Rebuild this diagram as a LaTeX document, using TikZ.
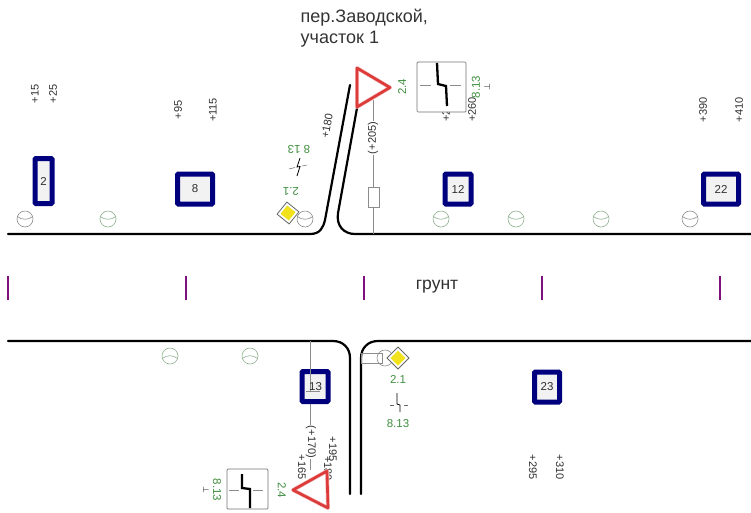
\documentclass[tikz,border=0pt]{standalone}
\usepackage{fontspec}
\setmainfont{Liberation Sans}
\newfontfamily\djv{DejaVu Sans}
\definecolor{signblue}{HTML}{00007F}
\definecolor{signgreen}{HTML}{3F8F3F}
\definecolor{roadpurple}{HTML}{80107F}
\definecolor{txt}{HTML}{303030}
\definecolor{signred}{HTML}{DD3A3A}
\definecolor{signhalo}{HTML}{F6C4C4}
\definecolor{lightgrn}{HTML}{90B090}
\definecolor{signyellow}{HTML}{F2E21E}
\tikzset{
 road/.style={line width=2.2pt,black,line cap=round},
 tick/.style={line width=1.8pt,roadpurple},
 busstop/.style={draw=signblue,line width=5pt,fill=black!5,rounded corners=1pt,inner sep=0pt,text=txt,font=\fontsize{11.5}{12}\selectfont,anchor=center},
 num/.style={font=\fontsize{11}{12}\selectfont,text=txt,inner sep=0pt},
 grn/.style={font=\fontsize{11.5}{12}\selectfont,text=signgreen,inner sep=0pt},
 greyline/.style={draw=black!45,line width=0.7pt},
 well/.style={draw=lightgrn,line width=0.6pt},
 yield/.style={draw=signred,line width=2.7pt,line join=round},
 yieldhalo/.style={draw=signhalo,line width=4pt,fill=white,line join=round},
 platebox/.style={draw=black!55,line width=0.7pt,fill=white,rounded corners=1pt},
 arrowbold/.style={line width=2.3pt,black},
 diamondsign/.style={draw=black!60,line width=0.8pt,fill=white},
}
\newcommand{\wellup}[3][lightgrn]{\draw[well,draw=#1] (#2,#3) circle (8);
 \draw[well,draw=#1] (#2-7.6,#3-2.5) .. controls (#2-3,#3+1.2) and (#2+3,#3+1.2) .. (#2+7.6,#3-2.5);}
\newcommand{\welldown}[3][lightgrn]{\draw[well,draw=#1] (#2,#3) circle (8);
 \draw[well,draw=#1] (#2-7.6,#3+2.5) .. controls (#2-3,#3-1.2) and (#2+3,#3-1.2) .. (#2+7.6,#3+2.5);}
\newcommand{\yelldiamond}[2]{
 \draw[diamondsign] (#1,#2-11) -- (#1+11,#2) -- (#1,#2+11) -- (#1-11,#2) -- cycle;
 \fill[signyellow] (#1,#2-7.5) -- (#1+7.5,#2) -- (#1,#2+7.5) -- (#1-7.5,#2) -- cycle;}
\begin{document}
\begin{tikzpicture}[x=1pt,y=-1pt]
\useasboundingbox (0,0) rectangle (751,512);
% roads
\draw[road] (8,234) -- (310,234) .. controls (320,234) and (323,228) .. (325,220) -- (350,85);
\draw[road] (357,108) -- (338,213) .. controls (336,226) and (344,234) .. (355,234) -- (751,234);
\draw[road] (8,341) -- (333,341) .. controls (343,341) and (350,348) .. (350,358) -- (350,494);
\draw[road] (361,494) -- (361,358) .. controls (361,348) and (368,341) .. (378,341) -- (751,341);
% centre ticks
\foreach \x in {8,186,364,542,720}
  \draw[tick] (\x,276) -- (\x,300);
\node[font=\fontsize{17.5}{20}\selectfont,text=txt] (surface) at (437,287) {грунт};
% title
\node[font=\fontsize{18}{21}\selectfont,text=black!80,align=left,anchor=north west,inner sep=0pt] (title) at (300.5,9) {пер.Заводской,\\участок 1};
% chainage labels top
\node[num,rotate=90] (n15) at (35,94) {+15};
\node[num,rotate=90] (n25) at (53,94) {+25};
\node[num,rotate=90] (n95) at (178,110) {+95};
\node[num,rotate=90] (n115) at (213,110) {+115};
\node[num,rotate=90] (n390) at (703,110) {+390};
\node[num,rotate=90] (n410) at (739,110) {+410};
\node[num,rotate=80] (n180) at (327,126) {+180};
\node[num,rotate=90,anchor=west] (n2) at (446,122) {+2};
\node[num,rotate=90,anchor=west] (n260) at (472,122) {+260};
% top grey pole
\draw[greyline] (373,100) -- (373,234);
\node[num,rotate=90,fill=white,inner sep=1pt] (n205) at (373,138) {(+205)};
\draw[greyline,fill=white] (368,187) rectangle (379,207);
% top yield
\draw[yieldhalo] (357,68) -- (390,87.5) -- (357,107) -- cycle;
\draw[yield] (357,68) -- (390,87.5) -- (357,107) -- cycle;
\node[grn,rotate=90] (g24a) at (402,87) {2.4};
% plate top
\draw[platebox] (417,62) rectangle (466,112);
\draw[greyline] (420,85) -- (431,85) (450,85) -- (461,85);
\draw[arrowbold] (437,63) -- (438,84) -- (446,86) -- (447,106);
\node[grn,rotate=90] (g813a) at (476,87) {8.13};
\node[num,rotate=90,font=\djv\fontsize{8}{9}\selectfont] (perpa) at (487,87) {⊥};
% left small plate
\node[grn,rotate=180] (g813b) at (299,149) {8 13};
\draw[black!60,line width=0.5pt] (289,169) -- (295,167.5) (302,166) -- (307,165);
\draw[black,line width=0.8pt] (300,158) -- (297,167) -- (300,166.5) -- (297,176);
\node[grn,rotate=180] (g21a) at (291,192) {2.1};
% diamond left
\begin{scope}[rotate around={6:(288,213)}]
\yelldiamond{288}{213}
\end{scope}
% wells top
\foreach \x in {108,441,516,601} {\wellup{\x}{219}}
\wellup[black!45]{305}{219}
\wellup[black!45]{25}{219}
\wellup[black!45]{690}{219}
% wells bottom
\welldown{170}{356}
\welldown{250}{356}
% top sign plates
\node[busstop,minimum width=17pt,minimum height=45pt] (s2) at (43.5,181) {2};
\node[busstop,minimum width=35pt,minimum height=30pt] (s8) at (195,189) {8};
\node[busstop,minimum width=26pt,minimum height=30pt] (s12) at (458,189) {12};
\node[busstop,minimum width=35pt,minimum height=30pt] (s22) at (721,189) {22};
% bottom pole
\draw[greyline,line width=0.9pt] (310.5,341) -- (310.5,470);
\node[num,rotate=-90,fill=white,inner sep=1pt] (n170) at (311,442) {(+170)};
\node[num,rotate=-90] (n165) at (302,467) {+165};
\node[num,rotate=-90] (n195) at (333,449) {+195};
\node[num,rotate=-90,anchor=west] (n180b) at (328,456) {+180};
% stop 13
\node[busstop,minimum width=26pt,minimum height=30pt] (s13) at (315,386.5) {};
\draw[greyline] (310.5,369) -- (310.5,391) -- (306,391) (310.5,391) -- (320,391);
\node[num,font=\fontsize{11.5}{12}\selectfont] (t13) at (315.5,387) {13};
\node[busstop,minimum width=25pt,minimum height=30pt] (s23) at (547,387) {23};
% bottom yield
\draw[yieldhalo] (293,490) -- (327,471) -- (328,508) -- cycle;
\draw[yield] (293,490) -- (327,471) -- (328,508) -- cycle;
\node[grn,rotate=-90] (g24b) at (282,490) {2.4};
% plate bottom
\draw[platebox] (227,469) rectangle (268,509);
\draw[greyline] (229,490) -- (239,490) (253,490) -- (263,490);
\draw[arrowbold] (242,474) -- (242,488) -- (250,489) -- (250,508);
\node[grn,rotate=-90] (g813c) at (217,490) {8.13};
\node[num,rotate=-90,font=\djv\fontsize{8}{9}\selectfont] (perpb) at (206,490) {⊥};
\node[num,rotate=-90] (n295) at (533,467) {+295};
\node[num,rotate=-90] (n310) at (560,467) {+310};
% right of junction
\draw[greyline] (361,353.5) rectangle (382,363.5);
\draw[well,draw=black!45] (385,358) circle (8);
\yelldiamond{398}{358}
\node[grn] (g21b) at (398,379) {2.1};
\draw[black!60,line width=0.6pt] (390,405) -- (394,405) (404,405) -- (408,405);
\draw[black,line width=0.8pt] (397,393) -- (397,404) -- (400,405) -- (400,412);
\node[grn] (g813d) at (398,424) {8.13};
\end{tikzpicture}
\end{document}
